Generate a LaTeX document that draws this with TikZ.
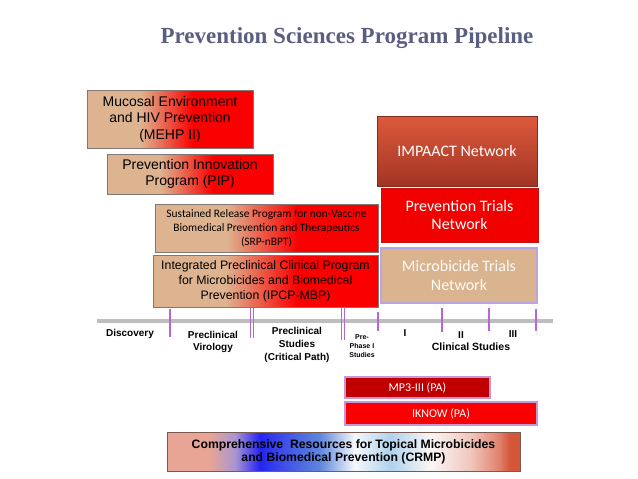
\documentclass[tikz,border=0pt]{standalone}
\usepackage{fontspec}
\setmainfont{Liberation Sans}
\newfontfamily\calib{Carlito}
\newfontfamily\titlefont{Liberation Serif}
\definecolor{boxtan}{RGB}{222,180,144}
\definecolor{boxred}{RGB}{250,0,0}
\definecolor{boxedge}{RGB}{130,120,115}
\definecolor{titlecol}{RGB}{90,94,128}
\definecolor{impatop}{RGB}{220,90,60}
\definecolor{impabot}{RGB}{162,52,36}
\definecolor{ptnred}{RGB}{242,0,0}
\definecolor{ptnedge}{RGB}{190,20,20}
\definecolor{mtntan}{RGB}{218,180,142}
\definecolor{lav}{RGB}{185,165,230}
\definecolor{lavpink}{RGB}{200,150,215}
\definecolor{mpred}{RGB}{192,0,0}
\definecolor{axisgray}{RGB}{190,190,190}
\definecolor{tickpurple}{RGB}{185,100,215}
\definecolor{cr1}{RGB}{232,165,150}
\definecolor{cr2}{RGB}{170,150,210}
\definecolor{cr3}{RGB}{35,35,240}
\definecolor{cr4}{RGB}{55,65,235}
\definecolor{cr5}{RGB}{95,135,220}
\definecolor{cr6}{RGB}{246,248,252}
\definecolor{cr7}{RGB}{175,210,235}
\definecolor{cr8}{RGB}{250,246,246}
\definecolor{cr9}{RGB}{240,200,190}
\definecolor{cr10}{RGB}{225,130,110}
\definecolor{cr11}{RGB}{212,85,55}
\definecolor{crmpedge}{RGB}{120,90,80}
\pgfdeclarehorizontalshading{tanred}{100bp}{color(0bp)=(boxtan); color(41bp)=(boxtan); color(57bp)=(boxred); color(100bp)=(boxred)}
\pgfdeclarehorizontalshading{crmpshade}{100bp}{color(0bp)=(cr1); color(31bp)=(cr1); color(34.6bp)=(cr2); color(38.2bp)=(cr3); color(40.3bp)=(cr4); color(46.7bp)=(cr5); color(51.6bp)=(cr6); color(56.6bp)=(cr7); color(62.3bp)=(cr8); color(67.9bp)=(cr9); color(72bp)=(cr10); color(73.6bp)=(cr11); color(100bp)=(cr11)}
\begin{document}
\begin{tikzpicture}[x=1pt,y=-1pt,
  progbox/.style={draw=boxedge, line width=0.8pt, shading=tanred, inner sep=0pt, align=center, anchor=center},
  netbox/.style={inner sep=0pt, align=center, anchor=center, text=white, font=\calib\fontsize{16}{18.5}\selectfont},
  axislbl/.style={font=\bfseries\fontsize{10}{12.5}\selectfont, align=center, inner sep=0pt, anchor=center},
  tickline/.style={draw=tickpurple, line width=2.4pt},
  dtick/.style={draw=tickpurple, line width=1.1pt}]
\useasboundingbox (0,0) rectangle (638,479);
\node[font=\titlefont\bfseries\fontsize{23}{26}\selectfont, text=titlecol, inner sep=0pt] (title) at (347,38) {Prevention Sciences Program Pipeline};
% program boxes
\node[progbox, minimum width=166pt, minimum height=58pt, font=\fontsize{14}{16.5}\selectfont] (mehp) at (170,119) {Mucosal Environment\\and HIV Prevention\\(MEHP II)};
\node[progbox, minimum width=166pt, minimum height=40pt, font=\fontsize{14}{16.5}\selectfont] (pip) at (190,174) {Prevention Innovation\\Program (PIP)};
\node[progbox, minimum width=223pt, minimum height=48pt, font=\calib\fontsize{11.4}{14}\selectfont] (srp) at (266.5,228) {Sustained Release Program for non-Vaccine\\Biomedical Prevention and Therapeutics\\(SRP-nBPT)};
\node[progbox, minimum width=225pt, minimum height=52pt, font=\fontsize{12.3}{15}\selectfont] (ipcp) at (265.5,281) {Integrated Preclinical Clinical Program\\for Microbicides and Biomedical\\Prevention (IPCP-MBP)};
% network boxes
\node[netbox, draw=impabot!80!black, line width=0.3pt, top color=impatop, bottom color=impabot, minimum width=160pt, minimum height=70pt] (impaact) at (457,151) {IMPAACT Network};
\node[netbox, fill=ptnred, draw=ptnedge, line width=0.9pt, minimum width=157pt, minimum height=54pt] (ptn) at (459.5,215) {Prevention Trials\\Network};
\node[netbox, fill=mtntan, draw=lav, line width=1.5pt, minimum width=156pt, minimum height=55pt, text=white!95!mtntan] (mtn) at (459,275.5) {Microbicide Trials\\Network};
% axis
\coordinate (axl) at (97,321);
\coordinate (axr) at (553,321);
\draw[axisgray, line width=3.5pt] (axl) -- (axr);
\draw[tickline] (170,309) -- (170,337);
\draw[dtick] (250.8,308) -- (250.8,338);
\draw[dtick] (253.6,308) -- (253.6,338);
\draw[dtick] (341.8,307) -- (341.8,340);
\draw[dtick] (344.6,307) -- (344.6,340);
\draw[tickline] (378,312) -- (378,331);
\draw[tickline] (442,308) -- (442,332);
\draw[tickline] (489,308) -- (489,331);
\draw[tickline] (536,309) -- (536,331);
% axis labels
\node[axislbl] (disc) at (130,334) {Discovery};
\node[axislbl] (pvir) at (213,342) {Preclinical\\Virology};
\node[axislbl, font=\bfseries\fontsize{10}{13}\selectfont] (pstud) at (297,345) {Preclinical\\Studies\\(Critical Path)};
\node[axislbl, font=\bfseries\fontsize{7}{9.2}\selectfont] (prep) at (362,346) {Pre-\\Phase I\\Studies};
\node[axislbl] (ph1) at (405,333) {I};
\node[axislbl] (ph2) at (461,335) {II};
\node[axislbl] (ph3) at (513,334) {III};
\node[axislbl, font=\bfseries\fontsize{10.5}{12.5}\selectfont] (clin) at (471,347) {Clinical Studies};
% PA boxes
\node[netbox, fill=mpred, draw=lavpink, line width=1.3pt, minimum width=145pt, minimum height=21pt, font=\calib\fontsize{12}{14}\selectfont] (mp3) at (417.5,387.5) {MP3-III (PA)};
\node[netbox, fill=boxred, draw=lavpink, line width=1.3pt, minimum width=192pt, minimum height=23pt, font=\calib\fontsize{12}{14}\selectfont] (iknow) at (441,413.5) {IKNOW (PA)};
% CRMP
\node[draw=crmpedge, line width=0.8pt, shading=crmpshade, minimum width=353pt, minimum height=39pt, inner sep=0pt, align=center, font=\bfseries\fontsize{12.2}{13}\selectfont] (crmp) at (343.5,451.5) {Comprehensive~ Resources for Topical Microbicides\\and Biomedical Prevention (CRMP)};
\end{tikzpicture}
\end{document}
